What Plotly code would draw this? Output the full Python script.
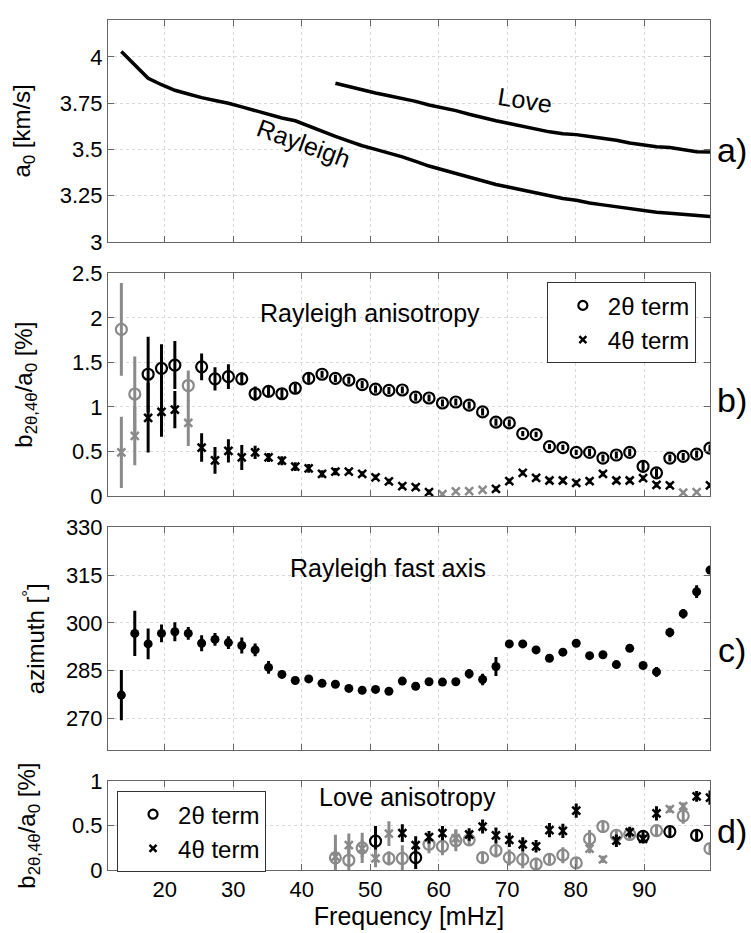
import plotly.graph_objects as go

# ---------------- data ----------------
freq = [13.67, 15.63, 17.58, 19.53, 21.48, 23.44, 25.39, 27.34, 29.30, 31.25,
        33.20, 35.16, 37.11, 39.06, 41.02, 42.97, 44.92, 46.88, 48.83, 50.78,
        52.73, 54.69, 56.64, 58.59, 60.55, 62.50, 64.45, 66.41, 68.36, 70.31,
        72.27, 74.22, 76.17, 78.13, 80.08, 82.03, 83.98, 85.94, 87.89, 89.84,
        91.80, 93.75, 95.70, 97.66, 99.61]

# panel a: phase velocity a0 [km/s]
rayleigh_vel = [4.03, 3.96, 3.885, 3.85, 3.82, 3.80, 3.78, 3.765, 3.75, 3.73,
                3.71, 3.69, 3.67, 3.655, 3.625, 3.595, 3.57, 3.545, 3.52, 3.50,
                3.48, 3.46, 3.435, 3.41, 3.39, 3.37, 3.35, 3.33, 3.31, 3.295,
                3.28, 3.265, 3.25, 3.235, 3.225, 3.21, 3.20, 3.19, 3.18, 3.17,
                3.16, 3.155, 3.15, 3.145, 3.137]
love_freq = freq[16:]
love_vel = [3.858, 3.84, 3.82, 3.805, 3.79, 3.775, 3.76, 3.74, 3.725, 3.71,
            3.69, 3.67, 3.655, 3.64, 3.625, 3.61, 3.595, 3.585, 3.58, 3.57,
            3.56, 3.55, 3.535, 3.525, 3.515, 3.51, 3.50, 3.488, 3.486]

# panel b: Rayleigh anisotropy [%]
r2 = [1.87, 1.145, 1.367, 1.433, 1.47, 1.24, 1.45, 1.315, 1.34, 1.315,
      1.148, 1.174, 1.148, 1.21, 1.32, 1.367, 1.32, 1.30, 1.25, 1.20,
      1.185, 1.19, 1.11, 1.10, 1.044, 1.055, 1.02, 0.944, 0.83, 0.82,
      0.70, 0.69, 0.555, 0.544, 0.49, 0.49, 0.426, 0.46, 0.49, 0.333,
      0.26, 0.426, 0.444, 0.47, 0.537]
r2_err = [0.52, 0.42, 0.42, 0.27, 0.27, 0.17, 0.15, 0.13, 0.14, 0.07,
          0.08, 0.06, 0.06, 0.05, 0.05, 0.04, 0.04, 0.04, 0.04, 0.04,
          0.04, 0.04, 0.04, 0.04, 0.04, 0.04, 0.04, 0.04, 0.04, 0.04,
          0.03, 0.03, 0.03, 0.03, 0.03, 0.04, 0.04, 0.04, 0.04, 0.05,
          0.05, 0.04, 0.04, 0.04, 0.04]
r2_col = list("ggkkkg" + "k" * 39)
r4 = [0.49, 0.674, 0.878, 0.944, 0.97, 0.82, 0.544, 0.40, 0.507, 0.433,
      0.49, 0.433, 0.396, 0.33, 0.31, 0.248, 0.274, 0.274, 0.248, 0.21,
      0.163, 0.11, 0.10, 0.044, 0.02, 0.052, 0.056, 0.07, 0.08, 0.167,
      0.26, 0.204, 0.174, 0.174, 0.148, 0.167, 0.248, 0.174, 0.174, 0.20,
      0.126, 0.12, 0.037, 0.044, 0.12]
r4_err = [0.40, 0.33, 0.39, 0.28, 0.21, 0.26, 0.16, 0.15, 0.13, 0.14,
          0.075, 0.05, 0.05, 0.05, 0.05, 0.04, 0.04, 0.03, 0.03, 0.03,
          0.03, 0.03, 0.03, 0.03, 0.02, 0.02, 0.02, 0.02, 0.03, 0.03,
          0.03, 0.03, 0.03, 0.03, 0.03, 0.03, 0.03, 0.03, 0.03, 0.03,
          0.03, 0.03, 0.02, 0.02, 0.03]
r4_col = list("ggkkkg" + "k" * 18 + "gggg" + "k" * 14 + "ggk")

# panel c: Rayleigh fast axis azimuth [deg]
azim = [277.3, 296.7, 293.4, 296.7, 297.2, 296.7, 293.6, 294.8, 293.8, 292.9,
        291.5, 286.0, 283.8, 281.9, 282.4, 281.0, 280.7, 279.4, 278.8, 279.1,
        278.5, 281.7, 280.1, 281.5, 281.4, 281.5, 284.0, 282.2, 286.3, 293.4,
        293.4, 291.5, 288.9, 290.8, 293.6, 289.7, 290.0, 286.9, 292.0, 286.6,
        284.6, 297.0, 302.9, 309.8, 316.6]
azim_err = [7.9, 7.1, 4.8, 2.8, 3.0, 2.0, 2.5, 2.0, 2.0, 2.5,
            2.0, 2.0, 1.2, 1.2, 1.0, 0.8, 0.8, 0.8, 0.8, 0.8,
            0.8, 0.8, 0.8, 0.8, 0.8, 1.2, 1.5, 1.8, 3.0, 1.0,
            0.8, 0.8, 0.8, 0.8, 1.0, 0.8, 0.8, 1.0, 0.8, 0.8,
            1.5, 1.5, 1.5, 2.0, 1.2]

# panel d: Love anisotropy [%]
l2 = [0.137, 0.11, 0.25, 0.326, 0.13, 0.13, 0.14, 0.29, 0.267, 0.33,
      0.34, 0.14, 0.22, 0.14, 0.12, 0.067, 0.12, 0.167, 0.08, 0.35,
      0.49, 0.39, 0.40, 0.378, 0.444, 0.433, 0.61, 0.39, 0.24]
l2_err = [0.26, 0.2, 0.17, 0.17, 0.08, 0.15, 0.13, 0.1, 0.1, 0.12,
          0.06, 0.06, 0.08, 0.09, 0.1, 0.07, 0.05, 0.09, 0.06, 0.1,
          0.07, 0.06, 0.05, 0.06, 0.06, 0.05, 0.09, 0.07, 0.06]
l2_col = list("gggkggkggggggggggggggggkgkgkg")
l4 = [0.15, 0.28, 0.24, 0.13, 0.41, 0.415, 0.28, 0.37, 0.415, 0.36,
      0.40, 0.49, 0.39, 0.34, 0.29, 0.267, 0.45, 0.44, 0.67, 0.24,
      0.12, 0.33, 0.426, 0.35, 0.637, 0.685, 0.72, 0.83, 0.815]
l4_err = [0.1, 0.13, 0.1, 0.1, 0.14, 0.1, 0.1, 0.07, 0.08, 0.1,
          0.07, 0.08, 0.09, 0.08, 0.08, 0.07, 0.08, 0.08, 0.08, 0.05,
          0.04, 0.07, 0.06, 0.05, 0.08, 0.04, 0.04, 0.06, 0.08]
l4_col = list("gggggkkkkgkkkkkkkkkggkkkkggkk")

xticks = [20, 30, 40, 50, 60, 70, 80, 90]
a_ticks = [3, 3.25, 3.5, 3.75, 4]
a_ticktext = ["3", "3.25", "3.5", "3.75", "4"]
b_ticks = [0, 0.5, 1, 1.5, 2, 2.5]
b_ticktext = ["0", "0.5", "1", "1.5", "2", "2.5"]
c_ticks = [270, 285, 300, 315, 330]
d_ticks = [0, 0.5, 1]
d_ticktext = ["0", "0.5", "1"]

# ---------------- styling ----------------
FONT = "Liberation Sans, Arial, sans-serif"
BLACK = "#000000"
GRAY = "#8a8a8a"
COLORS = {"k": BLACK, "g": GRAY}

fig = go.Figure()

# panel a
fig.add_trace(go.Scatter(x=freq, y=rayleigh_vel, mode="lines",
                         line=dict(color=BLACK, width=3.5), showlegend=False,
                         xaxis="x", yaxis="y"))
fig.add_trace(go.Scatter(x=love_freq, y=love_vel, mode="lines",
                         line=dict(color=BLACK, width=3.5), showlegend=False,
                         xaxis="x", yaxis="y"))


def add_err(xs, ys, es, cols, symbol, size, lw, xa, ya):
    for c in ("g", "k"):
        xi = [x for x, cc in zip(xs, cols) if cc == c]
        yi = [y for y, cc in zip(ys, cols) if cc == c]
        ei = [e for e, cc in zip(es, cols) if cc == c]
        if not xi:
            continue
        col = COLORS[c]
        fig.add_trace(go.Scatter(
            x=xi, y=yi, mode="markers",
            marker=dict(symbol=symbol, size=size, color=col,
                        line=dict(color=col, width=lw)),
            error_y=dict(type="data", array=ei, visible=True, color=col,
                         thickness=3, width=0),
            showlegend=False, xaxis=xa, yaxis=ya, cliponaxis=True))


# panel b
add_err(freq, r4, r4_err, r4_col, "x-thin-open", 8, 2.5, "x2", "y2")
add_err(freq, r2, r2_err, r2_col, "circle-open", 11, 2.2, "x2", "y2")

# panel c
add_err(freq, azim, azim_err, ["k"] * len(azim), "circle", 9, 0, "x3", "y3")

# panel d
add_err(love_freq, l2, l2_err, l2_col, "circle-open", 11, 2.2, "x4", "y4")
add_err(love_freq, l4, l4_err, l4_col, "x-thin-open", 8, 2.5, "x4", "y4")

# legend entries
for lg, xa, ya in (("legend", "x2", "y2"), ("legend2", "x4", "y4")):
    fig.add_trace(go.Scatter(x=[None], y=[None], mode="markers", name="2θ term",
                             marker=dict(symbol="circle-open", size=9, color=BLACK,
                                         line=dict(width=2.2, color=BLACK)),
                             legend=lg, xaxis=xa, yaxis=ya))
    fig.add_trace(go.Scatter(x=[None], y=[None], mode="markers", name="4θ term",
                             marker=dict(symbol="x-thin-open", size=7, color=BLACK,
                                         line=dict(width=2.5, color=BLACK)),
                             legend=lg, xaxis=xa, yaxis=ya))

AXCOL = "#666666"
common_x = dict(range=[11.72, 99.61], tickvals=xticks, showgrid=True,
                gridcolor="#d9d9d9", griddash="dot", gridwidth=1,
                showline=True, linecolor=AXCOL, linewidth=1, mirror="ticks",
                ticks="inside", ticklen=6, tickcolor=AXCOL, zeroline=False,
                tickfont=dict(size=22, color=BLACK, family=FONT))
common_y = dict(showgrid=True, gridcolor="#d9d9d9", griddash="dot", gridwidth=1,
                showline=True, linecolor=AXCOL, linewidth=1, mirror="ticks",
                ticks="inside", ticklen=6, tickcolor=AXCOL, zeroline=False,
                tickfont=dict(size=22, color=BLACK, family=FONT))

TITLE_FONT = dict(size=24, color=BLACK, family=FONT)
LEG_FONT = dict(size=24, color=BLACK, family=FONT)

fig.update_layout(
    width=751, height=933,
    margin=dict(l=108, r=41, t=8, b=63),
    paper_bgcolor="white", plot_bgcolor="white",
    font=dict(family=FONT, size=22, color=BLACK),
    xaxis=dict(common_x, anchor="y", showticklabels=False),
    xaxis2=dict(common_x, anchor="y2", showticklabels=False),
    xaxis3=dict(common_x, anchor="y3", showticklabels=False),
    xaxis4=dict(common_x, anchor="y4", showticklabels=True,
                title=dict(text="Frequency [mHz]", font=dict(size=25, color=BLACK, family=FONT),
                           standoff=2)),
    yaxis=dict(common_y, anchor="x", domain=[0.739, 1.0], range=[3, 4.2],
               tickvals=a_ticks, ticktext=a_ticktext,
               title=dict(text="a<sub>0</sub> [km/s]", font=TITLE_FONT, standoff=22)),
    yaxis2=dict(common_y, anchor="x2", domain=[0.440, 0.702], range=[0, 2.5],
                tickvals=b_ticks, ticktext=b_ticktext,
                title=dict(text="b<sub>2θ,4θ</sub>/a<sub>0</sub> [%]", font=TITLE_FONT, standoff=32)),
    yaxis3=dict(common_y, anchor="x3", domain=[0.141, 0.403], range=[260, 330],
                tickvals=c_ticks,
                title=dict(text="azimuth [<sup>°</sup>]", font=TITLE_FONT, standoff=14)),
    yaxis4=dict(common_y, anchor="x4", domain=[0.0, 0.1044], range=[0, 1],
                tickvals=d_ticks, ticktext=d_ticktext,
                title=dict(text="b<sub>2θ,4θ</sub>/a<sub>0</sub> [%]", font=TITLE_FONT, standoff=29)),
    legend=dict(x=0.729, y=0.6914, xanchor="left", yanchor="top",
                bordercolor="#333333", borderwidth=1, bgcolor="white",
                font=LEG_FONT, itemwidth=40, indentation=10,
                tracegroupgap=0),
    legend2=dict(x=0.015, y=0.0928, xanchor="left", yanchor="top",
                 bordercolor="#333333", borderwidth=1, bgcolor="white",
                 font=LEG_FONT, itemwidth=40, indentation=10,
                 tracegroupgap=0),
)

ann_font = dict(size=25, color=BLACK, family=FONT)
fig.add_annotation(x=40.2, y=3.533, xref="x", yref="y", text="Rayleigh",
                   showarrow=False, textangle=20, font=ann_font)
fig.add_annotation(x=72.6, y=3.77, xref="x", yref="y", text="Love",
                   showarrow=False, textangle=9, font=ann_font)
fig.add_annotation(x=49.97, y=2.05, xref="x2", yref="y2", text="Rayleigh anisotropy",
                   showarrow=False, font=ann_font)
fig.add_annotation(x=52.6, y=317.1, xref="x3", yref="y3", text="Rayleigh fast axis",
                   showarrow=False, font=ann_font)
fig.add_annotation(x=55.5, y=0.82, xref="x4", yref="y4", text="Love anisotropy",
                   showarrow=False, font=ann_font)

lab_font = dict(size=34, color=BLACK, family=FONT)
for txt, yp in (("a)", 0.8469), ("b)", 0.5534), ("c)", 0.2587), ("d)", 0.0464)):
    fig.add_annotation(x=1.0365, y=yp, xref="paper", yref="paper", text=txt,
                       showarrow=False, font=lab_font, xanchor="center", yanchor="middle")

fig.write_html("out.html")
